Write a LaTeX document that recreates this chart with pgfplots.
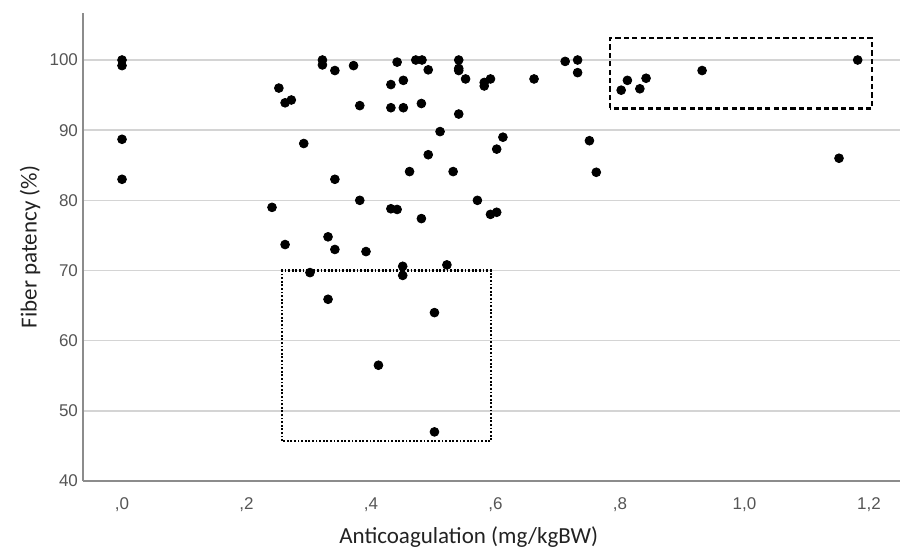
\documentclass[border=0pt]{standalone}
\usepackage{fontspec}
\setmainfont{Carlito}
\newfontfamily\tickfont{Liberation Sans}
\usepackage{pgfplots}
\pgfplotsset{compat=1.18}
\usetikzlibrary{calc}
\definecolor{gridgray}{HTML}{D4D4D4}
\definecolor{spinegray}{HTML}{8C8C8C}
\definecolor{ticktext}{HTML}{555555}
\definecolor{labeltext}{HTML}{222222}

\pgfplotstableread{
x y
0 100
0 99.2
0 88.7
0 83.0
0.252 96.0
0.262 93.9
0.272 94.3
0.322 100
0.322 99.3
0.342 98.5
0.372 99.2
0.382 93.5
0.292 88.1
0.342 83.0
0.241 79.0
0.382 80.0
0.262 73.7
0.331 74.8
0.342 73.0
0.392 72.7
0.442 99.7
0.472 100
0.482 100
0.492 98.6
0.432 96.5
0.452 97.1
0.432 93.2
0.452 93.2
0.481 93.8
0.541 100
0.541 98.8
0.541 98.5
0.552 97.3
0.541 92.3
0.582 96.8
0.582 96.3
0.592 97.3
0.662 97.3
0.712 99.8
0.732 100
0.732 98.2
0.511 89.8
0.612 89.0
0.602 87.3
0.492 86.5
0.751 88.5
0.462 84.1
0.532 84.1
0.762 84.0
0.432 78.8
0.442 78.7
0.481 77.4
0.571 80.0
0.592 78.0
0.602 78.3
0.802 95.7
0.812 97.1
0.832 95.9
0.842 97.4
0.932 98.5
1.182 100
1.152 86.0
0.302 69.7
0.451 70.6
0.451 69.3
0.522 70.8
0.331 65.9
0.502 64.0
0.412 56.5
0.502 47.0
}\patency

\begin{document}
\begin{tikzpicture}
\begin{axis}[
  scale only axis, width=408.5pt, height=234pt,
  xmin=-0.0627, xmax=1.250, ymin=40, ymax=106.7,
  axis x line=bottom, axis y line=left,
  axis line style={-, spinegray, line width=0.75pt},
  xtick={0,0.2,0.4,0.6,0.8,1.0,1.2},
  xticklabels={{,0},{,2},{,4},{,6},{,8},{1,0},{1,2}},
  ytick={40,50,60,70,80,90,100},
  yticklabels={40,50,60,70,80,90,100},
  major tick length=0pt,
  ymajorgrids, grid style={gridgray, line width=0.75pt},
  tick label style={font=\tickfont\fontsize{8.5}{10}\selectfont, text=ticktext},
  xticklabel style={yshift=-5pt},
  yticklabel style={xshift=1pt},
  xlabel={Anticoagulation (mg/kgBW)},
  ylabel={Fiber patency (\%)},
  label style={font=\fontsize{11.5}{13}\selectfont, text=labeltext},
  xlabel style={at={($(axis cs:0.557,40)+(0,-28pt)$)}, anchor=center},
  ylabel style={at={($(axis description cs:0,0.5)+(-26.5pt,0)$)}, anchor=center},
  clip=false,
]
\addplot[only marks, mark=*, mark size=2.2pt, black] table {\patency};
\draw[black, line width=1.2pt, dash pattern=on 2.6pt off 1.6pt]
  (axis cs:0.784,93.1) rectangle (axis cs:1.205,103.1);
\draw[black, line width=1.2pt, dash pattern=on 0.9pt off 0.9pt]
  (axis cs:0.2575,45.7) rectangle (axis cs:0.593,70.0);
\end{axis}
\pgfresetboundingbox
\path[use as bounding box] ($(current axis.south west)+(-41.5pt,-36pt)$)
  rectangle ($(current axis.north east)+(2pt,6.5pt)$);
\end{tikzpicture}
\end{document}
